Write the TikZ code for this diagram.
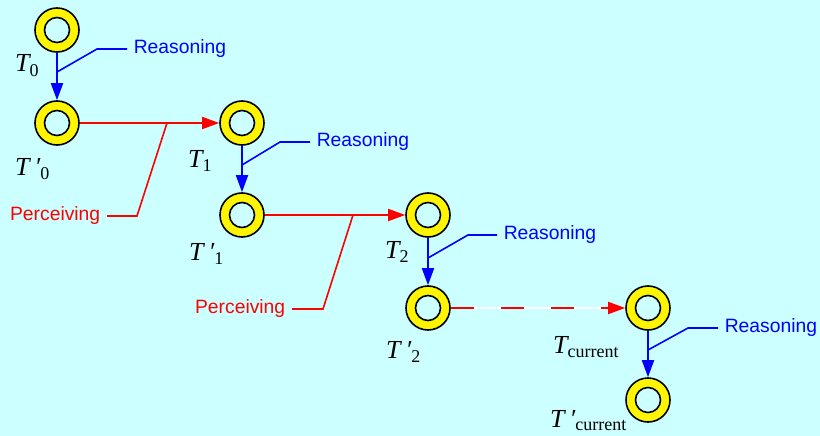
\documentclass[tikz,border=0pt]{standalone}
\usepackage{fontspec}
\setmainfont{Liberation Sans}
\newfontfamily\tnr{Liberation Serif}
\usetikzlibrary{arrows.meta}
\definecolor{bgc}{RGB}{204,255,255}
\definecolor{ringyel}{RGB}{255,245,0}
\newcommand{\Tlab}[2]{{\tnr\fontsize{26}{26}\selectfont\itshape T#1}\raisebox{-4.5pt}{\tnr\fontsize{18}{18}\selectfont #2}}
\newcommand{\pr}{\hspace{5pt}\upshape\raisebox{0pt}{\itshape ′}}
\begin{document}
\begin{tikzpicture}[x=1pt,y=-1pt,
  ring/.style={circle,draw=black,line width=1.6pt,fill=ringyel,minimum size=44pt,inner sep=0pt,
    path picture={\draw[line width=1.6pt,fill=bgc] (path picture bounding box.center) circle (12.5pt);}},
  tlabel/.style={anchor=base west,inner sep=0pt},
  reas/.style={blue,line width=1.8pt,-{Triangle[length=17pt,width=12pt]}},
  reasline/.style={blue,line width=1.6pt},
  perc/.style={red,line width=1.8pt,-{Triangle[length=17pt,width=12pt]}},
  percline/.style={red,line width=1.6pt},
  rtext/.style={blue,font=\fontsize{19.3}{19}\selectfont,anchor=west,inner sep=6pt},
  ptext/.style={red,font=\fontsize{19.3}{19}\selectfont,anchor=east,inner sep=6pt}]
\fill[bgc] (0,0) rectangle (820,436);
\useasboundingbox (0,0) rectangle (820,436);

\node[ring] (t0) at (57,30) {};
\node[ring] (t0p) at (57,123) {};
\node[ring] (t1) at (242,123) {};
\node[ring] (t1p) at (242,215) {};
\node[ring] (t2) at (428,215) {};
\node[ring] (t2p) at (428,308) {};
\node[ring] (tc) at (648,308) {};
\node[ring] (tcp) at (648,400) {};

% labels
\node[tlabel] (l0) at (15,72) {\Tlab{}{0}};
\node[tlabel] (l0p) at (15,175) {\Tlab{\pr}{0}};
\node[tlabel] (l1) at (188,167) {\Tlab{}{1}};
\node[tlabel] (l1p) at (189,260) {\Tlab{\pr}{1}};
\node[tlabel] (l2) at (385,258) {\Tlab{}{2}};
\node[tlabel] (l2p) at (386,358) {\Tlab{\pr}{2}};
\node[tlabel] (lc) at (553,353) {\Tlab{}{current}};
\node[tlabel] (lcp) at (550,427) {{\tnr\fontsize{26}{26}\selectfont\itshape T\pr}\raisebox{-3.5pt}{\tnr\fontsize{18}{18}\selectfont current}};

% reasoning arrows
\draw[reas] (t0) -- (t0p);
\draw[reas] (t1) -- (t1p);
\draw[reas] (t2) -- (t2p);
\draw[reas] (tc) -- (tcp);

\coordinate (j0) at (57,72);
\coordinate (j1) at (242,165);
\coordinate (j2) at (428,258);
\coordinate (jc) at (648,350);
\draw[reasline] (j0) -- ++(40,-23) -- ++(30,0) node[rtext] (r0) {Reasoning};
\draw[reasline] (j1) -- ++(38,-23) -- ++(30,0) node[rtext] (r1) {Reasoning};
\draw[reasline] (j2) -- ++(40,-23) -- ++(29,0) node[rtext] (r2) {Reasoning};
\draw[reasline] (jc) -- ++(40,-22) -- ++(30,0) node[rtext] (rc) {Reasoning};

% perceiving arrows
\draw[perc] (t0p) -- (t1);
\draw[perc] (t1p) -- (t2);
\coordinate (p0) at (167,123);
\coordinate (p1) at (353,215);
\draw[percline] (p0) -- (137,216) -- (107,216) node[ptext] (pt0) {Perceiving};
\draw[percline] (p1) -- (323,309) -- (292,309) node[ptext] (pt1) {Perceiving};

% dashed arrow
\draw[white,line width=1.6pt] (t2p) -- (tc);
\draw[perc,dash pattern=on 23pt off 27pt] (t2p) -- (tc);
\end{tikzpicture}
\end{document}
